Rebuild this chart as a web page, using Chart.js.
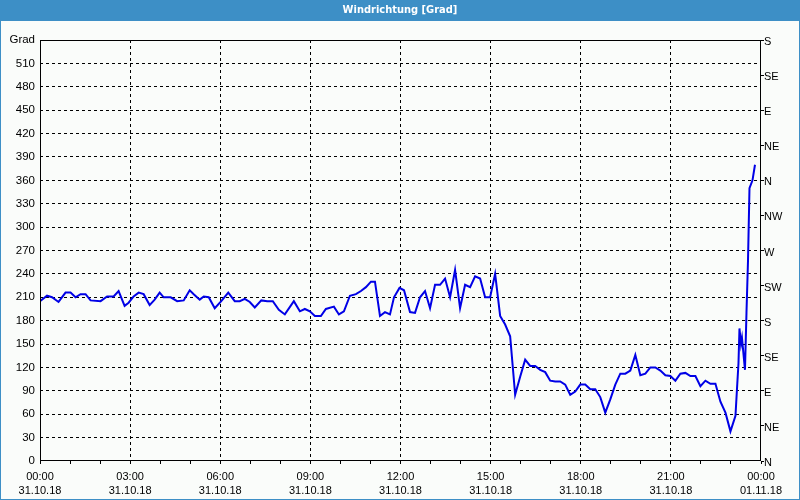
<!DOCTYPE html>
<html><head><meta charset="utf-8">
<script src="https://cdn.jsdelivr.net/npm/chart.js@4/dist/chart.umd.min.js"></script>
<style>html,body{margin:0;padding:0;background:#fff}#wrap{width:800px;height:500px}</style>
</head><body><div id="wrap"><canvas id="c" width="800" height="500"></canvas></div>
<script>
const chartTitle = 'Windrichtung [Grad]';
const leftAxisUnit = 'Grad';
// time in minutes since 31.10.18 00:00
const minutes = [0,14,24,37,51,61,71,81,91,101,121,134,147,157,169,177,187,197,207,219,229,239,247,261,274,287,299,307,319,327,337,349,362,376,389,399,409,419,429,442,454,465,477,489,507,519,529,539,549,561,571,587,597,607,619,631,641,651,661,669,679,689,699,707,718,
727,739,749,759,769,779,789,799,809,819,829,839,849,859,869,879,889,899,909,919,929,939,949,959,969,979,989,999,1009,1019,1029,1039,1049,1059,1069,1079,1089,1099,1109,1119,1129,1139,1149,1159,1169,1179,1189,1199,1209,1219,1229,1239,1249,1259,1269,1279,1289,1299,1309,1319,1329,1339,1349,1359,1369,1379,1389,1392,1395,1397,1400,1402,1408,1411,1414,1417,1423,1428];
const degrees = [205,212,210,204,216,216,210,214,214,206,205,211,211,218,199,203,211,216,214,200,207,216,210,210,205,206,219,214,207,211,210,196,205,216,205,205,208,204,197,206,205,205,194,188,205,192,195,192,186,186,195,198,188,192,212,214,218,223,230,230,186,191,188,210,222,
219,191,190,210,218,196,226,226,234,210,245,196,226,223,237,234,210,210,240,186,175,160,85,108,130,122,122,117,114,103,102,102,98,85,89,98,98,92,92,82,62,79,98,112,112,116,136,110,112,120,120,116,110,109,103,112,113,109,109,96,103,99,99,76,62,38,58,92,125,170,150,158,117,190,256,350,360,380];
const timeLabels = ['00:00','03:00','06:00','09:00','12:00','15:00','18:00','21:00','00:00'];
const dateLabels = ['31.10.18','31.10.18','31.10.18','31.10.18','31.10.18','31.10.18','31.10.18','31.10.18','01.11.18'];
const compassLabels = ['N','NE','E','SE','S','SW','W','NW','N','NE','E','SE','S'];

const FONT = "'Liberation Sans', Arial, sans-serif";
const frameAndBg = {
  id: 'frameAndBg',
  beforeDraw(chart) {
    const c = chart.ctx;
    c.save();
    c.fillStyle = '#fafcfa';
    c.fillRect(0, 0, chart.width, chart.height);
    c.fillStyle = '#3d8fc6';
    c.fillRect(0, 0, chart.width, 21);
    c.fillRect(0, 0, 1, chart.height);
    c.fillRect(chart.width - 1, 0, 1, chart.height);
    c.fillRect(0, chart.height - 1, chart.width, 1);
    c.restore();
  },
  afterDraw(chart) {
    const a = chart.chartArea, c = chart.ctx;
    c.save();
    c.strokeStyle = '#000';
    c.lineWidth = 1;
    c.setLineDash([]);
    const l = Math.floor(a.left) + 0.5, t = Math.floor(a.top) + 0.5;
    const r = Math.ceil(a.right) - 0.5, b = Math.ceil(a.bottom) - 0.5;
    c.strokeRect(l, t, r - l, b - t);
    c.restore();
  }
};

new Chart(document.getElementById('c'), {
  type: 'line',
  data: {
    datasets: [{
      data: minutes.map((m, i) => ({x: m, y: degrees[i]})),
      borderColor: '#0000e6',
      borderWidth: 2,
      pointRadius: 0,
      tension: 0,
      fill: false,
      yAxisID: 'y',
      xAxisID: 'x'
    }]
  },
  options: {
    responsive: false,
    animation: false,
    devicePixelRatio: 1,
    layout: {padding: {top: 0, left: 0, right: 0, bottom: 0}},
    plugins: {
      legend: {display: false},
      tooltip: {enabled: false},
      title: {
        display: true, text: chartTitle, color: '#ffffff',
        font: {family: "'Liberation Sans Narrow', 'DejaVu Sans Condensed', " + FONT, size: 11, weight: 'bold', lineHeight: 1.2},
        padding: {top: 4, bottom: 22.8}
      }
    },
    scales: {
      x: {
        type: 'linear', position: 'bottom', min: 0, max: 1440,
        afterFit(s) { s.height = 39; },
        ticks: {
          stepSize: 60, autoSkip: false, maxRotation: 0, padding: 5, color: '#000',
          font: {family: FONT, size: 11, lineHeight: 1.36},
          callback: v => (v % 180 === 0) ? [timeLabels[v / 180], dateLabels[v / 180]] : ''
        },
        grid: {
          color: ctx => (ctx.tick && ctx.tick.value % 180 === 0 && ctx.tick.value > 0 && ctx.tick.value < 1440) ? '#000' : 'rgba(0,0,0,0)',
          tickColor: '#000', tickLength: 3, tickBorderDash: [], lineWidth: 1
        },
        border: {display: false, dash: [3, 3]}
      },
      y: {
        type: 'linear', position: 'left', min: 0, max: 540,
        afterFit(s) { s.width = 40; },
        ticks: {
          stepSize: 30, padding: 5, color: '#000',
          font: {family: FONT, size: 11.5},
          callback: v => v === 540 ? leftAxisUnit : String(v)
        },
        grid: {
          color: ctx => (ctx.tick && ctx.tick.value > 0 && ctx.tick.value < 540) ? '#000' : 'rgba(0,0,0,0)',
          drawTicks: false, lineWidth: 1
        },
        border: {display: false, dash: [3, 3]}
      },
      y2: {
        type: 'linear', position: 'right', min: 0, max: 540,
        afterFit(s) { s.width = 39; },
        ticks: {
          stepSize: 45, padding: 0, color: '#000', labelOffset: 2,
          font: {family: FONT, size: 11},
          callback: v => compassLabels[Math.round(v / 45)]
        },
        grid: {drawOnChartArea: false, tickColor: '#000', tickLength: 3},
        border: {display: false}
      }
    }
  },
  plugins: [frameAndBg]
});
</script></body></html>
